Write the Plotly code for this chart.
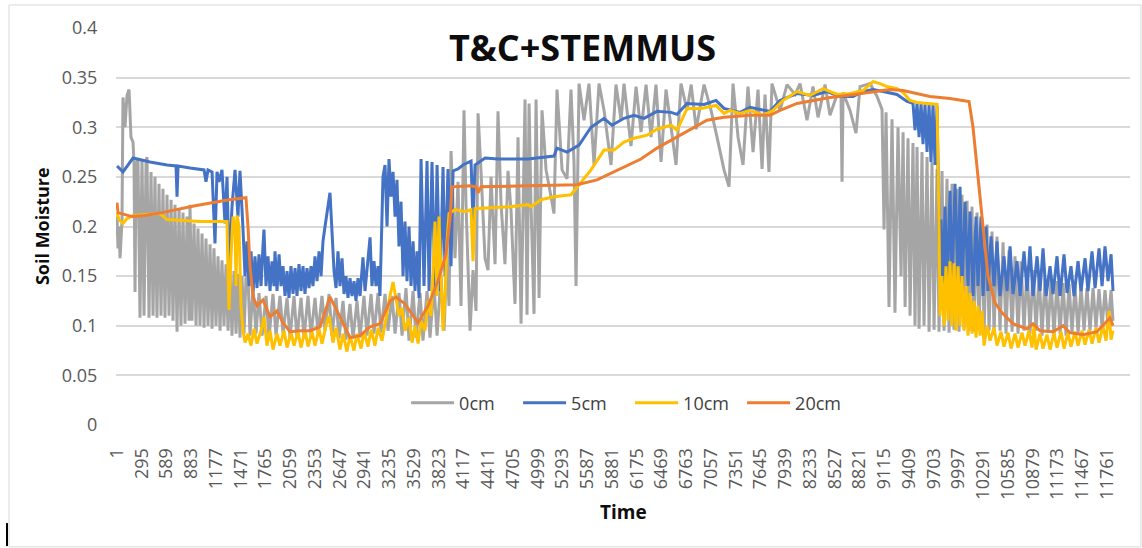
import plotly.graph_objects as go

# Soil moisture time series at four depths, as (time step, volumetric soil moisture)
SM_0CM = [
    (1, 0.210), (13, 0.178), (25, 0.200), (37, 0.168), (60, 0.205), (72, 0.330), (96, 0.300),
    (120, 0.332), (144, 0.338), (167, 0.290), (191, 0.285), (203, 0.265), (215, 0.134), (227, 0.262),
    (250, 0.268), (274, 0.108), (298, 0.268), (322, 0.110), (346, 0.265), (357, 0.270), (381, 0.108),
    (405, 0.255), (429, 0.110), (452, 0.250), (476, 0.108), (500, 0.243), (524, 0.110), (547, 0.238),
    (571, 0.108), (595, 0.232), (619, 0.110), (643, 0.227), (666, 0.105), (690, 0.222), (714, 0.094),
    (738, 0.218), (761, 0.100), (785, 0.214), (809, 0.102), (833, 0.210), (856, 0.105), (868, 0.222),
    (892, 0.105), (916, 0.203), (940, 0.100), (963, 0.198), (987, 0.100), (1011, 0.193), (1035, 0.098),
    (1058, 0.188), (1082, 0.100), (1106, 0.182), (1130, 0.097), (1153, 0.178), (1177, 0.100),
    (1201, 0.170), (1225, 0.095), (1248, 0.166), (1272, 0.100), (1296, 0.162), (1320, 0.095),
    (1343, 0.158), (1367, 0.090), (1391, 0.155), (1415, 0.092), (1438, 0.152), (1462, 0.088),
    (1486, 0.150), (1510, 0.092), (1533, 0.148), (1557, 0.150), (1581, 0.090), (1617, 0.140),
    (1652, 0.092), (1688, 0.133), (1724, 0.090), (1771, 0.130), (1807, 0.088), (1854, 0.132),
    (1890, 0.090), (1937, 0.130), (1973, 0.092), (2021, 0.128), (2056, 0.088), (2104, 0.130),
    (2139, 0.087), (2187, 0.128), (2223, 0.088), (2270, 0.130), (2306, 0.090), (2353, 0.128),
    (2389, 0.092), (2436, 0.130), (2472, 0.095), (2520, 0.132), (2555, 0.090), (2603, 0.128),
    (2638, 0.087), (2686, 0.125), (2721, 0.086), (2769, 0.122), (2805, 0.087), (2852, 0.125),
    (2888, 0.088), (2935, 0.130), (2971, 0.090), (3019, 0.132), (3054, 0.092), (3102, 0.133),
    (3137, 0.093), (3185, 0.132), (3220, 0.095), (3268, 0.130), (3304, 0.092), (3351, 0.133),
    (3387, 0.090), (3434, 0.138), (3470, 0.085), (3518, 0.135), (3553, 0.088), (3601, 0.133),
    (3636, 0.085), (3684, 0.135), (3719, 0.088), (3767, 0.140), (3803, 0.090), (3850, 0.150),
    (3886, 0.095), (3921, 0.170), (3945, 0.120), (3969, 0.276), (4016, 0.168), (4052, 0.245),
    (4088, 0.120), (4123, 0.317), (4147, 0.223), (4195, 0.095), (4230, 0.156), (4266, 0.115),
    (4290, 0.314), (4325, 0.256), (4373, 0.168), (4408, 0.156), (4444, 0.250), (4492, 0.162),
    (4527, 0.316), (4563, 0.223), (4610, 0.162), (4646, 0.256), (4682, 0.216), (4729, 0.122),
    (4765, 0.290), (4801, 0.102), (4848, 0.328), (4872, 0.111), (4896, 0.324), (4919, 0.223),
    (4955, 0.112), (4979, 0.328), (5015, 0.128), (5050, 0.317), (5098, 0.257), (5157, 0.230),
    (5192, 0.213), (5228, 0.338), (5288, 0.257), (5347, 0.248), (5394, 0.338), (5430, 0.265),
    (5454, 0.140), (5490, 0.344), (5549, 0.307), (5608, 0.344), (5668, 0.262), (5727, 0.344),
    (5787, 0.317), (5870, 0.262), (5929, 0.343), (5989, 0.307), (6024, 0.344), (6107, 0.281),
    (6167, 0.341), (6226, 0.295), (6286, 0.343), (6345, 0.290), (6404, 0.343), (6464, 0.265),
    (6523, 0.338), (6583, 0.300), (6642, 0.262), (6701, 0.344), (6773, 0.317), (6822, 0.343),
    (6881, 0.298), (6975, 0.343), (7058, 0.317), (7129, 0.290), (7212, 0.257), (7272, 0.240),
    (7319, 0.344), (7379, 0.290), (7438, 0.262), (7497, 0.341), (7557, 0.275), (7616, 0.338),
    (7664, 0.258), (7699, 0.333), (7746, 0.255), (7782, 0.344), (7877, 0.317), (7961, 0.343),
    (8056, 0.333), (8115, 0.344), (8198, 0.307), (8269, 0.341), (8329, 0.310), (8412, 0.343),
    (8471, 0.312), (8555, 0.333), (8602, 0.330), (8614, 0.245), (8626, 0.335), (8709, 0.317),
    (8780, 0.294), (8828, 0.341), (8947, 0.344), (9030, 0.331), (9089, 0.318), (9113, 0.197),
    (9137, 0.315), (9172, 0.119), (9208, 0.308), (9243, 0.113), (9279, 0.300), (9315, 0.150),
    (9339, 0.295), (9363, 0.119), (9398, 0.289), (9422, 0.110), (9457, 0.284), (9481, 0.100),
    (9505, 0.280), (9529, 0.097), (9564, 0.275), (9588, 0.100), (9624, 0.270), (9648, 0.094),
    (9683, 0.265), (9707, 0.096), (9743, 0.258), (9766, 0.094), (9802, 0.256), (9826, 0.095),
    (9861, 0.248), (9885, 0.093), (9921, 0.243), (9944, 0.096), (9980, 0.238), (10004, 0.094),
    (10039, 0.232), (10063, 0.097), (10099, 0.226), (10123, 0.095), (10158, 0.220), (10182, 0.094),
    (10218, 0.214), (10241, 0.096), (10277, 0.208), (10301, 0.093), (10337, 0.202), (10360, 0.095),
    (10396, 0.195), (10420, 0.092), (10455, 0.190), (10491, 0.095), (10527, 0.184), (10562, 0.092),
    (10598, 0.176), (10634, 0.094), (10669, 0.170), (10705, 0.092), (10741, 0.165), (10776, 0.095),
    (10812, 0.160), (10847, 0.092), (10883, 0.156), (10919, 0.095), (10955, 0.152), (10990, 0.090),
    (11026, 0.148), (11061, 0.093), (11097, 0.146), (11132, 0.090), (11168, 0.145), (11204, 0.092),
    (11240, 0.143), (11275, 0.090), (11311, 0.142), (11346, 0.093), (11382, 0.140), (11418, 0.092),
    (11453, 0.140), (11489, 0.095), (11524, 0.138), (11560, 0.095), (11596, 0.138), (11631, 0.098),
    (11667, 0.137), (11703, 0.098), (11738, 0.136), (11774, 0.100), (11810, 0.136), (11833, 0.105),
]

SM_5CM = [
    (1, 0.261), (72, 0.255), (191, 0.269), (393, 0.265), (595, 0.262), (702, 0.261), (714, 0.230),
    (726, 0.261), (868, 0.259), (1035, 0.257), (1058, 0.245), (1082, 0.257), (1130, 0.255),
    (1153, 0.217), (1165, 0.183), (1189, 0.255), (1213, 0.245), (1248, 0.257), (1284, 0.203),
    (1308, 0.250), (1332, 0.156), (1367, 0.220), (1403, 0.257), (1438, 0.210), (1462, 0.256),
    (1498, 0.197), (1522, 0.150), (1545, 0.185), (1569, 0.140), (1593, 0.175), (1617, 0.135),
    (1640, 0.170), (1664, 0.138), (1688, 0.172), (1712, 0.140), (1735, 0.180), (1747, 0.197),
    (1771, 0.140), (1795, 0.170), (1819, 0.135), (1842, 0.165), (1866, 0.140), (1878, 0.175),
    (1902, 0.135), (1926, 0.172), (1949, 0.140), (1973, 0.160), (1997, 0.130), (2021, 0.155),
    (2044, 0.128), (2068, 0.160), (2092, 0.132), (2116, 0.158), (2139, 0.130), (2163, 0.162),
    (2187, 0.135), (2211, 0.160), (2234, 0.132), (2258, 0.158), (2282, 0.138), (2306, 0.160),
    (2329, 0.140), (2353, 0.170), (2377, 0.145), (2401, 0.175), (2425, 0.150), (2448, 0.185),
    (2472, 0.200), (2496, 0.215), (2520, 0.230), (2531, 0.234), (2555, 0.195), (2579, 0.155),
    (2603, 0.138), (2626, 0.175), (2650, 0.140), (2674, 0.168), (2698, 0.132), (2721, 0.150),
    (2745, 0.128), (2769, 0.148), (2793, 0.130), (2817, 0.145), (2840, 0.125), (2864, 0.148),
    (2888, 0.130), (2912, 0.160), (2923, 0.169), (2947, 0.135), (2971, 0.160), (2995, 0.180),
    (3007, 0.189), (3030, 0.140), (3054, 0.165), (3078, 0.140), (3102, 0.160), (3125, 0.130),
    (3161, 0.250), (3185, 0.262), (3209, 0.200), (3232, 0.268), (3256, 0.230), (3280, 0.255),
    (3304, 0.210), (3327, 0.247), (3351, 0.180), (3375, 0.225), (3399, 0.150), (3422, 0.205),
    (3446, 0.145), (3470, 0.200), (3494, 0.140), (3518, 0.185), (3541, 0.135), (3565, 0.175),
    (3589, 0.128), (3613, 0.268), (3648, 0.140), (3684, 0.266), (3708, 0.135), (3743, 0.265),
    (3779, 0.135), (3803, 0.262), (3838, 0.135), (3874, 0.260), (3898, 0.150), (3933, 0.258),
    (3969, 0.160), (3993, 0.256), (4052, 0.258), (4111, 0.262), (4171, 0.265), (4207, 0.266),
    (4230, 0.205), (4254, 0.262), (4373, 0.269), (4527, 0.268), (4682, 0.268), (4884, 0.268),
    (5192, 0.271), (5228, 0.279), (5347, 0.275), (5490, 0.282), (5632, 0.300), (5787, 0.309),
    (5881, 0.302), (6024, 0.309), (6143, 0.312), (6262, 0.309), (6416, 0.316), (6583, 0.315),
    (6654, 0.313), (6773, 0.324), (6975, 0.323), (7117, 0.327), (7212, 0.319), (7402, 0.315),
    (7521, 0.320), (7640, 0.318), (7759, 0.316), (7877, 0.327), (8079, 0.334), (8269, 0.332),
    (8436, 0.336), (8590, 0.331), (8745, 0.331), (8863, 0.336), (8982, 0.338), (9101, 0.336),
    (9267, 0.333), (9386, 0.326), (9457, 0.324), (9481, 0.297), (9505, 0.324), (9529, 0.290),
    (9553, 0.324), (9576, 0.283), (9600, 0.323), (9624, 0.275), (9648, 0.323), (9671, 0.265),
    (9695, 0.323), (9719, 0.262), (9743, 0.322), (9766, 0.200), (9778, 0.150), (9790, 0.207),
    (9814, 0.140), (9838, 0.220), (9861, 0.135), (9897, 0.236), (9921, 0.140), (9956, 0.243),
    (9992, 0.145), (10016, 0.240), (10039, 0.135), (10075, 0.225), (10111, 0.140), (10134, 0.215),
    (10170, 0.130), (10206, 0.210), (10229, 0.140), (10265, 0.210), (10289, 0.130), (10325, 0.200),
    (10348, 0.135), (10384, 0.190), (10420, 0.140), (10455, 0.185), (10491, 0.130), (10538, 0.170),
    (10574, 0.135), (10610, 0.180), (10645, 0.132), (10693, 0.165), (10729, 0.130), (10776, 0.175),
    (10812, 0.135), (10847, 0.180), (10883, 0.130), (10931, 0.170), (10966, 0.135), (11002, 0.178),
    (11038, 0.130), (11085, 0.160), (11121, 0.132), (11168, 0.170), (11204, 0.130), (11251, 0.172),
    (11287, 0.133), (11334, 0.160), (11370, 0.130), (11418, 0.165), (11453, 0.135), (11501, 0.168),
    (11536, 0.135), (11584, 0.175), (11620, 0.138), (11667, 0.178), (11703, 0.140), (11738, 0.180),
    (11774, 0.145), (11810, 0.172), (11833, 0.135),
]

SM_10CM = [
    (1, 0.214), (25, 0.207), (72, 0.203), (120, 0.208), (191, 0.211), (334, 0.212), (512, 0.213),
    (595, 0.207), (785, 0.206), (987, 0.205), (1165, 0.205), (1308, 0.205), (1320, 0.150),
    (1332, 0.116), (1355, 0.170), (1379, 0.210), (1403, 0.200), (1415, 0.140), (1427, 0.211),
    (1450, 0.200), (1474, 0.120), (1498, 0.095), (1522, 0.083), (1557, 0.092), (1593, 0.080),
    (1628, 0.097), (1664, 0.082), (1712, 0.095), (1747, 0.109), (1783, 0.080), (1819, 0.095),
    (1854, 0.076), (1902, 0.092), (1937, 0.080), (1985, 0.095), (2021, 0.078), (2068, 0.093),
    (2104, 0.080), (2151, 0.094), (2187, 0.078), (2234, 0.095), (2270, 0.079), (2318, 0.094),
    (2353, 0.080), (2401, 0.097), (2436, 0.082), (2484, 0.100), (2520, 0.110), (2567, 0.083),
    (2603, 0.098), (2650, 0.076), (2686, 0.092), (2733, 0.074), (2769, 0.090), (2816, 0.075),
    (2852, 0.092), (2900, 0.077), (2935, 0.094), (2983, 0.079), (3019, 0.096), (3066, 0.080),
    (3102, 0.098), (3149, 0.085), (3197, 0.110), (3244, 0.130), (3280, 0.144), (3316, 0.125),
    (3351, 0.110), (3387, 0.118), (3422, 0.095), (3470, 0.108), (3506, 0.083), (3541, 0.100),
    (3577, 0.082), (3613, 0.105), (3660, 0.095), (3696, 0.125), (3731, 0.110), (3755, 0.155),
    (3779, 0.205), (3803, 0.130), (3826, 0.210), (3850, 0.150), (3874, 0.095), (3898, 0.130),
    (3921, 0.185), (3945, 0.213), (4016, 0.217), (4135, 0.215), (4207, 0.217), (4230, 0.165),
    (4254, 0.218), (4432, 0.219), (4670, 0.220), (4884, 0.222), (4919, 0.220), (5038, 0.227),
    (5192, 0.230), (5394, 0.232), (5490, 0.242), (5632, 0.257), (5787, 0.277), (5905, 0.277),
    (6024, 0.285), (6143, 0.289), (6297, 0.292), (6416, 0.298), (6583, 0.302), (6654, 0.297),
    (6773, 0.319), (6939, 0.319), (7117, 0.322), (7212, 0.314), (7283, 0.317), (7402, 0.314),
    (7521, 0.317), (7676, 0.312), (7794, 0.317), (7913, 0.327), (8079, 0.336), (8234, 0.332),
    (8388, 0.339), (8555, 0.333), (8709, 0.334), (8863, 0.337), (8982, 0.346), (9065, 0.344),
    (9148, 0.341), (9267, 0.339), (9339, 0.335), (9422, 0.327), (9505, 0.325), (9659, 0.324),
    (9743, 0.323), (9766, 0.200), (9778, 0.110), (9802, 0.150), (9826, 0.100), (9849, 0.160),
    (9873, 0.105), (9897, 0.165), (9921, 0.100), (9944, 0.163), (9968, 0.095), (9992, 0.160),
    (10016, 0.100), (10039, 0.150), (10063, 0.095), (10087, 0.140), (10111, 0.090), (10134, 0.133),
    (10158, 0.092), (10182, 0.125), (10206, 0.088), (10229, 0.120), (10253, 0.090), (10277, 0.115),
    (10301, 0.080), (10337, 0.100), (10372, 0.085), (10420, 0.098), (10455, 0.080), (10503, 0.094),
    (10538, 0.079), (10586, 0.093), (10622, 0.077), (10669, 0.092), (10705, 0.078), (10752, 0.093),
    (10788, 0.080), (10835, 0.095), (10871, 0.078), (10895, 0.100), (10919, 0.076), (10966, 0.092),
    (11002, 0.077), (11049, 0.091), (11085, 0.076), (11132, 0.093), (11168, 0.078), (11216, 0.094),
    (11251, 0.077), (11299, 0.093), (11334, 0.079), (11382, 0.094), (11418, 0.080), (11465, 0.095),
    (11501, 0.081), (11548, 0.096), (11584, 0.082), (11631, 0.098), (11667, 0.083), (11714, 0.100),
    (11750, 0.085), (11786, 0.115), (11810, 0.086), (11833, 0.095),
]

SM_20CM = [
    (1, 0.224), (13, 0.214), (179, 0.210), (334, 0.211), (536, 0.214), (738, 0.218), (928, 0.221),
    (1130, 0.224), (1332, 0.227), (1533, 0.229), (1557, 0.200), (1581, 0.160), (1617, 0.129),
    (1664, 0.120), (1735, 0.126), (1819, 0.109), (1902, 0.115), (1973, 0.103), (2056, 0.094),
    (2175, 0.095), (2294, 0.095), (2413, 0.099), (2531, 0.129), (2615, 0.115), (2686, 0.103),
    (2769, 0.088), (2888, 0.090), (3007, 0.099), (3125, 0.102), (3244, 0.125), (3316, 0.129),
    (3422, 0.122), (3577, 0.103), (3696, 0.120), (3814, 0.145), (3909, 0.172), (3957, 0.207),
    (3981, 0.240), (4195, 0.241), (4266, 0.240), (4290, 0.234), (4325, 0.240), (4884, 0.241),
    (5466, 0.242), (5703, 0.247), (6024, 0.260), (6226, 0.268), (6416, 0.279), (6654, 0.290),
    (6820, 0.298), (7010, 0.307), (7212, 0.310), (7521, 0.312), (7759, 0.312), (7877, 0.317),
    (8079, 0.324), (8269, 0.327), (8471, 0.330), (8673, 0.332), (8863, 0.334), (9065, 0.336),
    (9184, 0.338), (9339, 0.337), (9505, 0.334), (9659, 0.331), (9897, 0.329), (10123, 0.326),
    (10170, 0.300), (10218, 0.260), (10253, 0.225), (10301, 0.185), (10348, 0.150), (10431, 0.123),
    (10515, 0.113), (10645, 0.102), (10812, 0.097), (10883, 0.102), (10966, 0.095), (11121, 0.094),
    (11240, 0.100), (11322, 0.093), (11477, 0.091), (11643, 0.094), (11714, 0.100), (11798, 0.108),
    (11833, 0.100),
]

SERIES = [
    ("0cm", SM_0CM, "#A5A5A5"),
    ("5cm", SM_5CM, "#4472C4"),
    ("10cm", SM_10CM, "#FFC000"),
    ("20cm", SM_20CM, "#ED7D31"),
]

# Category labels shown along the time axis (every 294th step)
TIME_TICKS = [1, 295, 589, 883, 1177, 1471, 1765, 2059, 2353, 2647, 2941, 3235, 3529, 3823,
              4117, 4411, 4705, 4999, 5293, 5587, 5881, 6175, 6469, 6763, 7057, 7351, 7645,
              7939, 8233, 8527, 8821, 9115, 9409, 9703, 9997, 10291, 10585, 10879, 11173,
              11467, 11761]
MOISTURE_TICKS = [0, 0.05, 0.1, 0.15, 0.2, 0.25, 0.3, 0.35, 0.4]
MOISTURE_LABELS = ["0", "0.05", "0.1", "0.15", "0.2", "0.25", "0.3", "0.35", "0.4"]

FONT = "Open Sans"

fig = go.Figure()
for name, pts, color in SERIES:
    fig.add_trace(go.Scatter(
        x=[p[0] for p in pts],
        y=[p[1] for p in pts],
        mode="lines",
        name=name,
        line=dict(color=color, width=3),
    ))

fig.update_layout(
    width=1142,
    height=548,
    margin=dict(l=116, r=12, t=28, b=123),
    paper_bgcolor="white",
    plot_bgcolor="white",
    font=dict(family=FONT),
    showlegend=True,
    legend=dict(
        orientation="h",
        x=0.507, xanchor="center",
        y=0.055, yanchor="middle",
        bgcolor="rgba(0,0,0,0)",
        itemwidth=43,
        entrywidth=54,
        font=dict(family=FONT, size=18, color="#404040"),
    ),
    xaxis=dict(
        range=[-11, 12035],
        tickmode="array",
        tickvals=TIME_TICKS,
        ticktext=[str(v) for v in TIME_TICKS],
        tickangle=-90,
        tickfont=dict(family=FONT, size=18, color="#595959"),
        showgrid=False,
        zeroline=False,
        showline=False,
        ticks="outside",
        ticklen=15,
        tickcolor="rgba(0,0,0,0)",
    ),
    yaxis=dict(
        range=[0, 0.4],
        tickmode="array",
        tickvals=MOISTURE_TICKS,
        ticktext=MOISTURE_LABELS,
        tickfont=dict(family=FONT, size=18, color="#595959"),
        showgrid=True,
        gridcolor="#D9D9D9",
        gridwidth=1.5,
        zeroline=False,
        showline=False,
        ticks="outside",
        ticklen=14,
        tickcolor="rgba(0,0,0,0)",
    ),
    annotations=[
        dict(text="<b>T&C+STEMMUS</b>", xref="paper", yref="paper", x=0.4596, y=0.952,
             xanchor="center", yanchor="middle", showarrow=False,
             font=dict(family=FONT, size=36, color="#0D0D0D")),
        dict(text="<b>Soil Moisture</b>", xref="paper", yref="paper", x=-0.073, y=0.501,
             xanchor="center", yanchor="middle", textangle=-90, showarrow=False,
             font=dict(family=FONT, size=18, color="#0D0D0D")),
        dict(text="<b>Time</b>", xref="paper", yref="paper", x=0.5, y=-0.219,
             xanchor="center", yanchor="middle", showarrow=False,
             font=dict(family=FONT, size=19, color="#0D0D0D")),
    ],
    shapes=[
        # light chart frame
        dict(type="rect", xref="paper", yref="paper", x0=-0.1055, x1=1.0108, y0=-0.307, y1=1.058,
             line=dict(color="#D9D9D9", width=1), fillcolor="rgba(0,0,0,0)", layer="below"),
        dict(type="line", xref="paper", yref="paper", x0=-0.1075, x1=-0.1075, y0=-0.305, y1=-0.247,
             line=dict(color="#000000", width=2)),
    ],
)

fig.write_html("out.html")
